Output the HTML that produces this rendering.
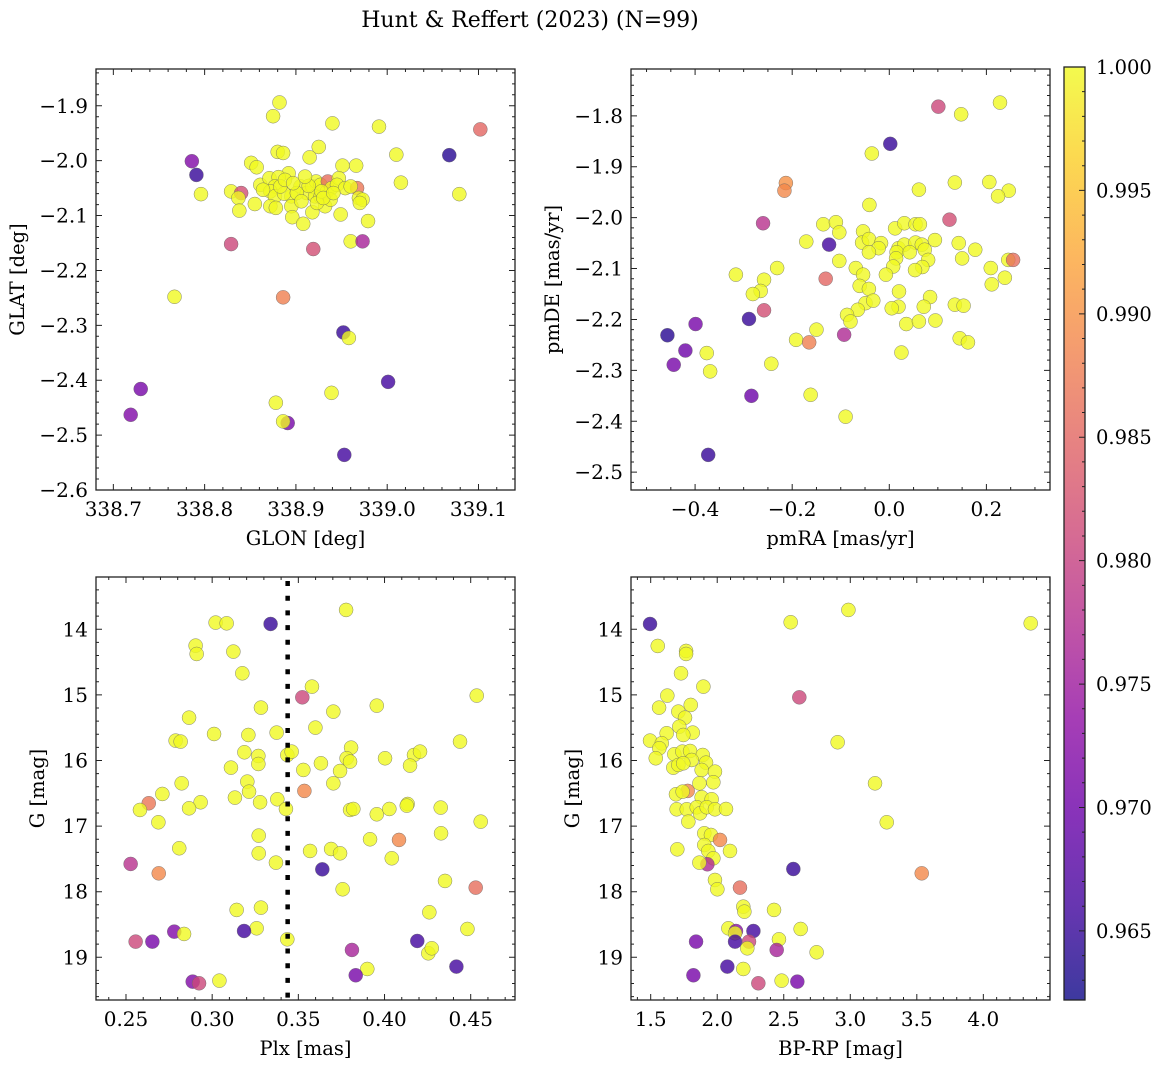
<!DOCTYPE html>
<html><head><meta charset="utf-8"><style>
html,body{margin:0;padding:0;background:#fff;}
svg{display:block;font-family:"DejaVu Serif","Liberation Serif",serif;}
</style></head><body>
<svg id="fig" width="1161" height="1067" viewBox="0 0 1161 1067" xmlns="http://www.w3.org/2000/svg">
<defs><linearGradient id="plasma" x1="0" y1="1" x2="0" y2="0">
<stop offset="0" stop-color="#0d0887"/><stop offset="0.1" stop-color="#41049d"/><stop offset="0.2" stop-color="#6a00a8"/><stop offset="0.3" stop-color="#8f0da4"/><stop offset="0.4" stop-color="#b12a90"/><stop offset="0.5" stop-color="#cc4778"/><stop offset="0.6" stop-color="#e16462"/><stop offset="0.7" stop-color="#f2844b"/><stop offset="0.8" stop-color="#fca636"/><stop offset="0.9" stop-color="#fcce25"/><stop offset="1" stop-color="#f0f921"/>
</linearGradient></defs>
<text x="530" y="27" font-size="22" text-anchor="middle">Hunt &amp; Reffert (2023) (N=99)</text>
</svg>
<script>
// ---- Panel 1: GLON / GLAT ----
const glon = [338.882,338.875,338.940,338.991,339.102,339.068,339.010,338.786,338.791,338.796,339.079,339.015,338.880,338.886,338.925,338.915,338.851,338.857,338.892,338.951,338.966,338.829,338.840,338.837,338.838,338.855,338.861,338.871,338.881,338.877,338.872,338.877,338.872,338.878,338.895,338.895,338.896,338.908,338.918,338.905,338.912,338.918,338.922,338.927,338.921,338.927,338.934,338.935,338.939,338.947,338.945,338.954,338.932,338.949,338.938,338.967,338.969,338.973,338.970,338.979,338.960,338.973,338.829,338.919,338.767,338.886,338.952,338.958,339.001,338.730,338.719,338.878,338.939,338.891,338.886,338.953,338.887,338.901,338.906,338.923,338.928,338.930,338.914,338.941,338.883,338.864,338.888,338.960,338.897,338.910];
const glat = [-1.894,-1.919,-1.932,-1.938,-1.943,-1.990,-1.989,-2.001,-2.026,-2.061,-2.061,-2.040,-1.984,-1.986,-1.975,-1.994,-2.004,-2.012,-2.023,-2.009,-2.009,-2.056,-2.059,-2.068,-2.091,-2.079,-2.044,-2.032,-2.030,-2.047,-2.056,-2.065,-2.083,-2.086,-2.065,-2.083,-2.103,-2.115,-2.094,-2.047,-2.059,-2.047,-2.038,-2.044,-2.065,-2.066,-2.056,-2.038,-2.050,-2.032,-2.044,-2.050,-2.083,-2.098,-2.071,-2.050,-2.068,-2.071,-2.077,-2.110,-2.147,-2.147,-2.152,-2.161,-2.248,-2.249,-2.313,-2.323,-2.403,-2.416,-2.463,-2.441,-2.423,-2.478,-2.475,-2.536,-2.060,-2.059,-2.074,-2.077,-2.056,-2.068,-2.046,-2.059,-2.047,-2.053,-2.035,-2.047,-2.041,-2.029];
const prob1 = [1,1,1,1,0.985,0.964,1,0.972,0.965,1,1,1,1,1,1,1,1,1,1,1,1,1,0.982,1,1,1,1,1,1,1,1,1,1,1,1,1,1,1,1,1,1,1,1,1,1,1,1,0.986,1,1,1,1,1,1,1,0.987,1,1,1,1,1,0.976,0.981,0.982,1,0.988,0.965,1,0.966,0.971,0.972,1,1,0.971,1,0.966,1,1,1,1,1,1,1,1,1,1,1,1,1,1];
// ---- Panel 2: pmRA / pmDE ----
const pmra = [0.101,0.148,0.228,0.002,-0.036,-0.213,-0.216,0.135,0.206,0.061,0.246,0.224,-0.041,-0.260,0.124,-0.136,-0.110,-0.103,-0.054,0.012,0.031,0.054,0.063,-0.171,-0.124,-0.056,-0.042,-0.017,-0.022,0.019,0.031,0.054,0.067,0.073,0.094,0.143,0.177,-0.042,0.015,0.042,0.014,0.150,-0.103,0.080,0.008,0.068,0.053,0.245,0.255,-0.231,0.209,-0.069,-0.316,-0.258,-0.131,-0.054,-0.007,0.211,0.238,-0.265,-0.281,-0.061,-0.042,0.020,-0.049,-0.033,0.084,0.135,0.153,-0.258,0.019,0.005,0.071,-0.065,-0.087,-0.080,0.035,0.061,0.095,-0.289,-0.399,-0.457,-0.093,-0.150,-0.192,-0.165,0.145,0.162,-0.420,-0.376,-0.444,-0.369,-0.243,0.025,-0.284,-0.162,-0.090,-0.373];
const pmde = [-1.782,-1.797,-1.774,-1.855,-1.874,-1.932,-1.947,-1.931,-1.930,-1.945,-1.947,-1.958,-1.975,-2.011,-2.004,-2.013,-2.009,-2.029,-2.027,-2.021,-2.011,-2.013,-2.013,-2.047,-2.053,-2.049,-2.042,-2.050,-2.060,-2.060,-2.053,-2.049,-2.053,-2.063,-2.044,-2.050,-2.063,-2.068,-2.068,-2.068,-2.080,-2.080,-2.085,-2.083,-2.096,-2.097,-2.103,-2.083,-2.083,-2.099,-2.099,-2.099,-2.112,-2.122,-2.120,-2.112,-2.112,-2.131,-2.118,-2.144,-2.150,-2.134,-2.140,-2.145,-2.168,-2.163,-2.156,-2.171,-2.173,-2.182,-2.175,-2.178,-2.175,-2.181,-2.191,-2.204,-2.209,-2.204,-2.202,-2.199,-2.209,-2.231,-2.230,-2.220,-2.240,-2.245,-2.237,-2.245,-2.261,-2.266,-2.289,-2.302,-2.287,-2.265,-2.350,-2.348,-2.391,-2.466];
const prob2 = [0.981,1,1,0.965,1,0.990,0.989,1,1,1,1,1,1,0.978,0.982,1,1,1,1,1,1,1,1,1,0.966,1,1,1,1,1,1,1,1,1,1,1,1,1,1,1,1,1,1,1,1,1,1,1,0.986,1,1,1,1,1,0.985,1,1,1,1,1,1,1,1,1,1,1,1,1,1,0.982,1,1,1,1,1,1,1,1,1,0.965,0.971,0.964,0.977,1,1,0.988,1,1,0.970,1,0.971,1,1,1,0.970,1,1,0.965];
// ---- Panel 3: Plx / G ----
const plx = [0.3777,0.3020,0.3084,0.3339,0.2904,0.2910,0.3123,0.3175,0.3579,0.3523,0.4535,0.3955,0.3283,0.3703,0.2866,0.3599,0.3011,0.3210,0.3374,0.2788,0.2817,0.4438,0.3187,0.3268,0.3268,0.3436,0.3461,0.3806,0.3780,0.3800,0.4003,0.4171,0.4206,0.4148,0.3109,0.3631,0.3529,0.3742,0.3703,0.3204,0.3214,0.2823,0.3535,0.2711,0.2632,0.2581,0.2933,0.2866,0.3132,0.3278,0.3378,0.3428,0.2688,0.3800,0.3819,0.3955,0.4028,0.4134,0.4129,0.4326,0.4558,0.4328,0.3270,0.3916,0.4084,0.2809,0.3270,0.3568,0.3690,0.3742,0.4042,0.3370,0.2527,0.3639,0.2690,0.3757,0.4351,0.4529,0.3142,0.3283,0.4260,0.3258,0.4481,0.3185,0.2780,0.2837,0.3436,0.2556,0.2653,0.4190,0.3811,0.4254,0.4274,0.3900,0.4417,0.3833,0.2887,0.2924,0.3042];
const gmag3 = [13.705,13.898,13.909,13.919,14.249,14.376,14.340,14.671,14.874,15.037,15.011,15.164,15.194,15.255,15.347,15.499,15.596,15.611,15.575,15.697,15.712,15.712,15.875,15.931,16.053,15.916,15.865,15.804,15.966,16.017,15.966,15.916,15.865,16.078,16.109,16.043,16.144,16.160,16.348,16.322,16.475,16.348,16.464,16.510,16.652,16.754,16.637,16.729,16.566,16.637,16.591,16.739,16.942,16.754,16.739,16.820,16.739,16.663,16.688,16.718,16.932,17.110,17.145,17.201,17.211,17.338,17.415,17.379,17.349,17.415,17.491,17.557,17.577,17.659,17.720,17.963,17.836,17.938,18.278,18.243,18.314,18.558,18.568,18.599,18.609,18.644,18.726,18.761,18.761,18.751,18.888,18.939,18.863,19.178,19.142,19.274,19.371,19.396,19.356];
const prob3 = [1,1,1,0.965,1,1,1,1,1,0.981,1,1,1,1,1,1,1,1,1,1,1,1,1,1,1,1,1,1,1,1,1,1,1,1,1,1,1,1,1,1,1,1,0.989,1,0.987,1,1,1,1,1,1,1,1,1,1,1,1,1,1,1,1,1,1,1,0.989,1,1,1,1,1,1,1,0.978,0.965,0.989,1,1,0.986,1,1,1,1,1,0.966,0.972,1,1,0.981,0.971,0.966,0.976,1,1,1,0.966,0.971,0.972,0.981,1];
const plxCut = [0.3438];
// ---- Panel 4: BP-RP / G ----
const bprp = [1.495,2.986,2.552,4.356,1.553,1.766,1.766,1.728,1.896,2.617,1.625,1.563,1.801,1.708,1.758,1.715,1.620,1.816,1.745,1.495,1.583,1.565,2.905,1.678,1.738,1.796,1.891,1.538,1.808,1.916,1.670,1.708,1.745,1.883,1.983,1.971,1.866,3.186,1.778,1.690,1.740,1.883,1.958,1.695,1.771,1.846,1.871,1.921,1.983,2.066,1.783,3.274,1.903,1.953,2.021,1.903,1.933,2.096,1.700,1.971,1.926,1.866,2.572,3.537,1.983,2.001,2.171,2.196,2.204,2.427,2.084,2.272,2.627,2.141,2.134,2.134,1.841,2.239,2.464,2.226,2.447,2.747,2.076,2.196,1.821,2.309,2.484,2.602];
const gmag4 = [13.919,13.705,13.893,13.909,14.254,14.330,14.376,14.671,14.874,15.037,15.011,15.194,15.153,15.255,15.347,15.484,15.585,15.575,15.611,15.697,15.738,15.814,15.722,15.905,15.865,15.855,15.916,15.966,15.992,16.033,16.109,16.068,16.043,16.144,16.170,16.332,16.348,16.348,16.464,16.515,16.475,16.561,16.591,16.744,16.744,16.713,16.805,16.713,16.744,16.739,16.932,16.942,17.110,17.135,17.211,17.288,17.379,17.379,17.354,17.491,17.582,17.557,17.654,17.720,17.821,17.963,17.938,18.228,18.304,18.278,18.558,18.599,18.568,18.599,18.634,18.761,18.761,18.761,18.726,18.863,18.888,18.924,19.142,19.178,19.274,19.396,19.356,19.371];
const prob4 = [0.965,1,1,1,1,1,1,1,1,0.981,1,1,1,1,1,1,1,1,1,1,1,1,1,1,1,1,1,1,1,1,1,1,1,1,1,1,1,1,0.989,1,1,1,1,1,1,1,1,1,1,1,1,1,1,1,0.989,1,1,1,1,1,0.977,1,0.965,0.989,1,1,0.986,1,1,1,1,0.966,1,0.973,1,0.966,0.971,0.981,1,1,0.976,1,0.966,1,0.971,0.981,1,0.971];
// ---- Colorbar ----
const cbTicks = [0.965,0.970,0.975,0.980,0.985,0.990,0.995,1.000];
const cbMin = 0.9622, cbMax = 1.0;

const NS = "http://www.w3.org/2000/svg";
const svg = document.getElementById('fig');
const TF = 20;
function mk(tag, attrs, parent){ const e=document.createElementNS(NS,tag); for(const k in attrs) e.setAttribute(k,attrs[k]); (parent||svg).appendChild(e); return e; }
const stops=[[13,8,135],[65,4,157],[106,0,168],[143,13,164],[177,42,144],[204,71,120],[225,100,98],[242,132,75],[252,166,54],[252,206,37],[240,249,33]];
function plasma(v){ let t=(v-cbMin)/(cbMax-cbMin); t=Math.max(0,Math.min(1,t)); const s=t*10; const i=Math.min(9,Math.floor(s)); const f=s-i; const a=stops[i],b=stops[i+1]; return 'rgb('+a.map((c,k)=>Math.round(c+(b[k]-c)*f)).join(',')+')'; }
function fmt(v,d){ return (v<0?'\u2212':'')+Math.abs(v).toFixed(d); }

function panel(o){
  const g=mk('g',{});  
  const sx=v=>o.L+(v-o.x0)/(o.x1-o.x0)*(o.R-o.L);
  const sy=v=>o.inv ? o.T+(v-o.y0)/(o.y1-o.y0)*(o.B-o.T) : o.B-(v-o.y0)/(o.y1-o.y0)*(o.B-o.T);
  const pg=mk('g',{},g);  
  for(let i=0;i<o.xs.length;i++){
    const c=mk('circle',{cx:sx(o.xs[i]),cy:sy(o.ys[i]),r:7,fill:plasma(o.ps[i]),'fill-opacity':0.8,stroke:'#666','stroke-opacity':0.8,'stroke-width':0.5},pg);
     
  }
  if(o.vline){ const l=mk('line',{x1:sx(o.vline[0]),x2:sx(o.vline[0]),y1:o.T+4,y2:o.B,stroke:'#000','stroke-width':4.5,'stroke-dasharray':'5 9.7'},g);   }
  const fr=mk('rect',{x:o.L,y:o.T,width:o.R-o.L,height:o.B-o.T,fill:'none',stroke:'#222','stroke-width':1.3},g);  
  let tp='';
  const eps=1e-9;
  for(let v=Math.ceil(o.x0/o.xmin-eps)*o.xmin; v<=o.x1+eps; v+=o.xmin){ const X=sx(v); const maj=Math.abs(v/o.xmaj-Math.round(v/o.xmaj))<1e-6; const len=maj?6:3; tp+=`M${X},${o.B}v${-len}M${X},${o.T}v${len}`; }
  for(let v=Math.ceil(o.y0/o.ymin-eps)*o.ymin; v<=o.y1+eps; v+=o.ymin){ const Y=sy(v); const maj=Math.abs(v/o.ymaj-Math.round(v/o.ymaj))<1e-6; const len=maj?6:3; tp+=`M${o.L},${Y}h${len}M${o.R},${Y}h${-len}`; }
  mk('path',{d:tp,stroke:'#222','stroke-width':1,fill:'none'},g);
  const xl=mk('g',{},g);  
  for(const v of o.xt){ const t=mk('text',{x:sx(v),y:o.B+26,'font-size':TF,'text-anchor':'middle'},xl); t.textContent=fmt(v,o.xd); }
  const yl=mk('g',{},g);  
  for(const v of o.yt){ const t=mk('text',{x:o.L-8,y:sy(v)+7,'font-size':TF,'text-anchor':'end'},yl); t.textContent=fmt(v,o.yd); }
  const xt=mk('text',{x:(o.L+o.R)/2,y:o.B+55,'font-size':19.5,'text-anchor':'middle'},g); xt.textContent=o.xlab;  
  const cy=(o.T+o.B)/2; const yt=mk('text',{x:o.ylx,y:cy,'font-size':19.5,'text-anchor':'middle',transform:`rotate(-90 ${o.ylx} ${cy})`},g); yt.textContent=o.ylab;  
}

panel({name:'glon-glat-panel',L:96,R:515,T:69,B:490,x0:338.681,x1:339.140,y0:-2.6,y1:-1.833,inv:false,xs:glon,ys:glat,ps:prob1,
  xmaj:0.1,xmin:0.02,ymaj:0.1,ymin:0.02,xt:[338.7,338.8,338.9,339.0,339.1],xd:1,yt:[-2.6,-2.5,-2.4,-2.3,-2.2,-2.1,-2.0,-1.9],yd:1,xlab:'GLON [deg]',ylab:'GLAT [deg]',ylx:24});
panel({name:'pm-panel',L:631,R:1050,T:69,B:490,x0:-0.532,x1:0.331,y0:-2.535,y1:-1.708,inv:false,xs:pmra,ys:pmde,ps:prob2,
  xmaj:0.2,xmin:0.05,ymaj:0.1,ymin:0.02,xt:[-0.4,-0.2,0.0,0.2],xd:1,yt:[-2.5,-2.4,-2.3,-2.2,-2.1,-2.0,-1.9,-1.8],yd:1,xlab:'pmRA [mas/yr]',ylab:'pmDE [mas/yr]',ylx:559});
panel({name:'plx-g-panel',L:96,R:515,T:577,B:1000,x0:0.2326,x1:0.4757,y0:13.203,y1:19.651,inv:true,xs:plx,ys:gmag3,ps:prob3,vline:plxCut,
  xmaj:0.05,xmin:0.01,ymaj:1,ymin:0.2,xt:[0.25,0.30,0.35,0.40,0.45],xd:2,yt:[14,15,16,17,18,19],yd:0,xlab:'Plx [mas]',ylab:'G [mag]',ylx:44});
panel({name:'cmd-panel',L:631,R:1050,T:577,B:1000,x0:1.352,x1:4.501,y0:13.203,y1:19.651,inv:true,xs:bprp,ys:gmag4,ps:prob4,
  xmaj:0.5,xmin:0.1,ymaj:1,ymin:0.2,xt:[1.5,2.0,2.5,3.0,3.5,4.0],xd:1,yt:[14,15,16,17,18,19],yd:0,xlab:'BP-RP [mag]',ylab:'G [mag]',ylx:579});

(function(){
  const L=1064,R=1085,T=67,B=1000;
  const g=mk('g',{});  
  mk('rect',{x:L,y:T,width:R-L,height:B-T,fill:'url(#plasma)','fill-opacity':0.8,stroke:'none'},g);
  mk('rect',{x:L,y:T,width:R-L,height:B-T,fill:'none',stroke:'#222','stroke-width':1.3},g);
  const sy=v=>B-(v-cbMin)/(cbMax-cbMin)*(B-T);
  let d='';
  for(let k=Math.ceil(cbMin*1000-1e-6);k<=1000;k++){ const Y=sy(k/1000); const maj=(k%5===0); d+=`M${R},${Y}h${maj?-6:-3}`; }
  mk('path',{d:d,stroke:'#222','stroke-width':1,fill:'none'},g);
  for(const v of cbTicks){ const t=mk('text',{x:R+11,y:sy(v)+7,'font-size':19.5},g); t.textContent=v.toFixed(3);   }
})();
</script>
</body></html>
